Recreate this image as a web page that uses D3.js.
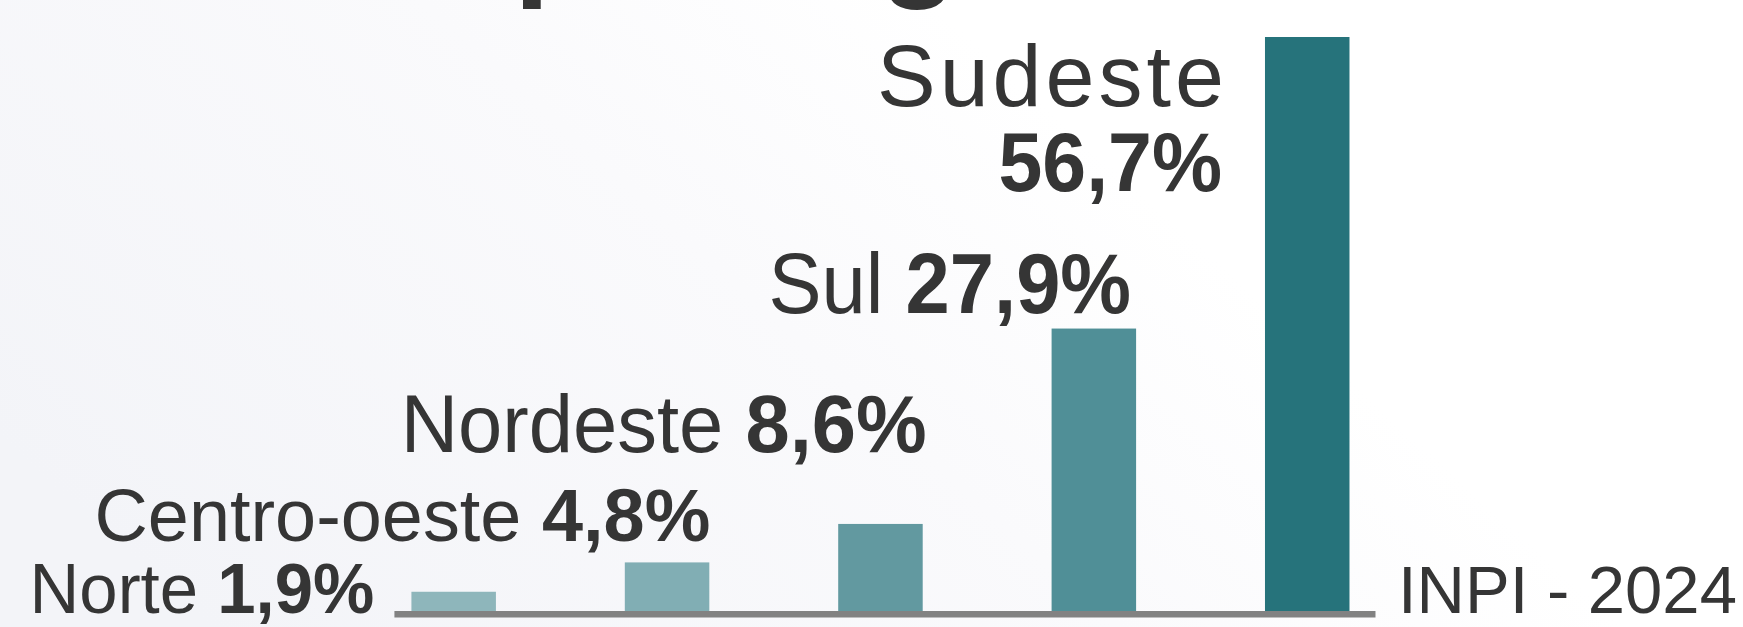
<!DOCTYPE html>
<meta charset="utf-8">
<title>INPI 2024 - regiões</title>
<style>
body {
  margin: 0;
  overflow: hidden;
}
svg text {
  font-family: "Liberation Sans", Arial, sans-serif;
  fill: #353535;
}
.num {
  font-weight: bold;
}
</style>
<body>
<script src="https://d3js.org/d3.v7.min.js"></script>
<script>

// dados
var regioes = ["Norte", "Centro-oeste", "Nordeste", "Sul", "Sudeste"];
var percentuais = [1.9, 4.8, 8.6, 27.9, 56.7];
var rotulos = ["1,9%", "4,8%", "8,6%", "27,9%", "56,7%"];
var cores = ["#8eb6bb", "#81aeb4", "#6299a0", "#508f97", "#26737b"];
var fonte = "INPI - 2024";
var titulo = "por região";

var width = 1743,
    height = 627,
    base = 611;

var x = d3.scaleBand()
    .domain(regioes)
    .range([347.4, 1413.5])
    .paddingInner(0.604)
    .paddingOuter(0.3);

var y = d3.scaleLinear()
    .domain([0, 56.7])
    .range([base, 37]);

var svg = d3.select("body").append("svg")
    .attr("width", width)
    .attr("height", height);

var grad = svg.append("defs").append("linearGradient")
    .attr("id", "fundo")
    .attr("x1", 0).attr("y1", 0.7)
    .attr("x2", 1).attr("y2", 0.3);
grad.append("stop").attr("offset", "0%").attr("stop-color", "#f3f4f8");
grad.append("stop").attr("offset", "45%").attr("stop-color", "#fafafc");
grad.append("stop").attr("offset", "70%").attr("stop-color", "#ffffff");

svg.append("rect")
    .attr("width", width)
    .attr("height", height)
    .style("fill", "url(#fundo)");

// titulo cortado no topo (so as descendentes aparecem)
svg.append("text")
    .attr("x", 514)
    .attr("y", -17.6)
    .style("font-size", "129px")
    .style("font-weight", "bold")
    .text(titulo);

svg.selectAll(".bar")
    .data(regioes)
  .enter().append("rect")
    .attr("class", "bar")
    .attr("x", function(d) { return x(d); })
    .attr("width", x.bandwidth())
    .attr("y", function(d, i) { return y(percentuais[i]); })
    .attr("height", function(d, i) { return base + 2 - y(percentuais[i]); })
    .style("fill", function(d, i) { return cores[i]; });

// linha de base
svg.append("line")
    .attr("x1", x(regioes[0]) - 17)
    .attr("x2", x(regioes[4]) + x.bandwidth() + 26)
    .attr("y1", base + 3.2)
    .attr("y2", base + 3.2)
    .style("stroke", "#828282")
    .style("stroke-width", 6.5);

// posicao dos rotulos (relativa a cada barra)
var layout = [
  {dx: -37, dy: null, size: 70, sx: 0.985},   // ao lado, na base
  {dx: 1,   dy: -21,  size: 75, sx: 0.985},
  {dx: 4,   dy: -72,  size: 82, sx: 0.97},
  {dx: -5,  dy: -16,  size: 86, sx: 0.925}
];

regioes.forEach(function(r, i) {
  if (i === 4) return;
  var L = layout[i];
  var xr = L.dx < -20 ? x(r) + L.dx : x(r) + x.bandwidth() + L.dx;
  var yb = L.dy === null ? base + 2 : y(percentuais[i]) + L.dy;
  var t = svg.append("text")
      .attr("transform", "translate(" + xr + "," + yb + ") scale(" + L.sx + ",1)")
      .style("text-anchor", "end")
      .style("font-size", L.size + "px");
  t.append("tspan").text(r + " ");
  t.append("tspan").attr("class", "num").text(rotulos[i]);
});

// Sudeste em duas linhas, a esquerda da barra
var xs = x(regioes[4]);
svg.append("text")
    .attr("x", xs - 388)
    .attr("y", y(percentuais[4]) + 69)
    .style("font-size", "88px")
    .style("letter-spacing", "4px")
    .text(regioes[4]);

svg.append("text")
    .attr("class", "num")
    .attr("transform", "translate(" + (xs - 43) + "," + (y(percentuais[4]) + 154) + ") scale(0.95,1)")
    .style("text-anchor", "end")
    .style("font-size", "83px")
    .text(rotulos[4]);

svg.append("text")
    .attr("x", 1398)
    .attr("y", base + 2)
    .style("font-size", "67px")
    .text(fonte);

</script>
</body>
